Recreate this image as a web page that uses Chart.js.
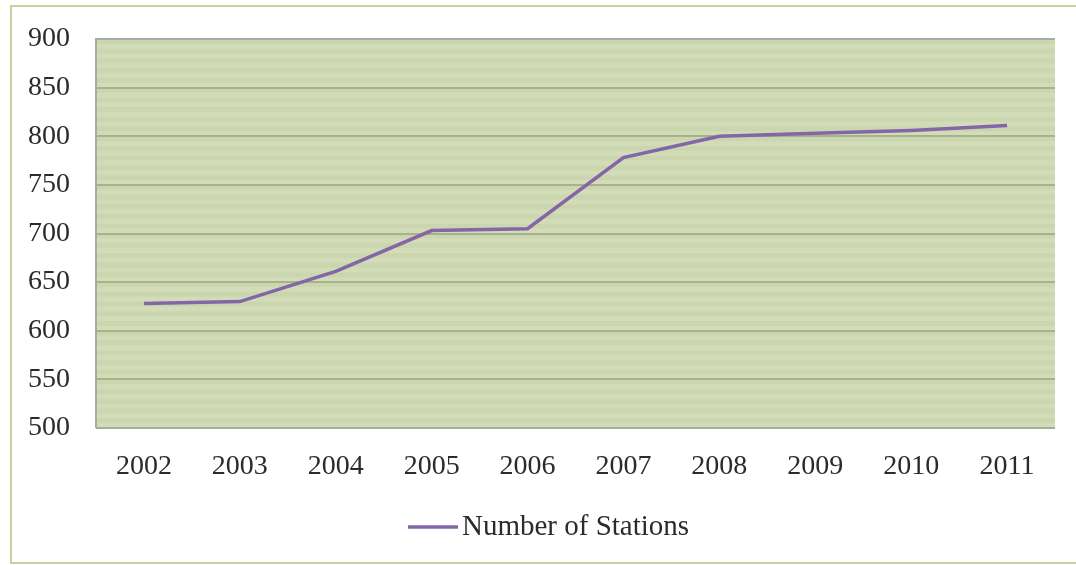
<!DOCTYPE html>
<html>
<head>
<meta charset="utf-8">
<script src="https://cdn.jsdelivr.net/npm/chart.js@4.4.1/dist/chart.umd.min.js"></script>
<style>
  html, body { margin: 0; padding: 0; background: #ffffff; }
  #wrap { width: 1076px; height: 565px; position: relative; }
</style>
</head>
<body>
<div id="wrap"><canvas id="c" width="1076" height="565"></canvas></div>
<script>
// Station counts per year
const years = ['2002', '2003', '2004', '2005', '2006', '2007', '2008', '2009', '2010', '2011'];
const stations = [628, 630, 661, 703, 705, 778, 800, 803, 806, 811];
const seriesName = 'Number of Stations';
const yTicks = [500, 550, 600, 650, 700, 750, 800, 850, 900];

const PURPLE = '#8466a8';
const TEXT = '#2b2b2b';
const FONT = "'Liberation Serif', 'Times New Roman', serif";
const FONT_SIZE = 28;

// Striped green plot background, plot border, outer frame and legend key
const backdrop = {
  id: 'backdrop',
  beforeDraw(chart) {
    const { ctx, chartArea: a, scales: { y } } = chart;
    ctx.save();
    // outer frame
    ctx.strokeStyle = '#c6d1a0';
    ctx.lineWidth = 2;
    ctx.strokeRect(11, 6, 1100, 557);
    // plot fill
    ctx.fillStyle = '#d3dcb8';
    ctx.fillRect(a.left, a.top, a.right - a.left, a.bottom - a.top);
    // fine stripes every 10 units
    ctx.fillStyle = '#cbd6ae';
    for (let v = y.min; v < y.max; v += 10) {
      const y1 = y.getPixelForValue(v + 5);
      const y2 = y.getPixelForValue(v + 10);
      ctx.fillRect(a.left, y2, a.right - a.left, y1 - y2);
    }
    ctx.restore();
  },
  afterDatasetsDraw(chart) {
    const { ctx, chartArea: a } = chart;
    ctx.save();
    ctx.strokeStyle = '#a9aba2';
    ctx.lineWidth = 2;
    ctx.beginPath();
    ctx.moveTo(a.left, a.bottom);
    ctx.lineTo(a.left, a.top);
    ctx.lineTo(a.right, a.top);
    ctx.moveTo(a.left, a.bottom);
    ctx.lineTo(a.right, a.bottom);
    ctx.stroke();
    ctx.restore();
  },
  afterDraw(chart) {
    const { ctx } = chart;
    const ds = chart.data.datasets[0];
    const keyX = 408, keyY = 527, keyW = 50;
    ctx.save();
    ctx.strokeStyle = ds.borderColor;
    ctx.lineWidth = 3.5;
    ctx.beginPath();
    ctx.moveTo(keyX, keyY);
    ctx.lineTo(keyX + keyW, keyY);
    ctx.stroke();
    ctx.fillStyle = TEXT;
    ctx.font = `${FONT_SIZE + 1}px ${FONT}`;
    ctx.textBaseline = 'middle';
    ctx.textAlign = 'left';
    ctx.fillText(ds.label, keyX + keyW + 4, keyY);
    ctx.restore();
  }
};

new Chart(document.getElementById('c'), {
  type: 'line',
  data: {
    labels: years,
    datasets: [{
      label: seriesName,
      data: stations,
      borderColor: PURPLE,
      backgroundColor: PURPLE,
      borderWidth: 3.5,
      pointRadius: 0,
      tension: 0,
      fill: false
    }]
  },
  options: {
    responsive: false,
    animation: false,
    devicePixelRatio: 1,
    layout: { padding: { left: 0, right: 21, top: 39, bottom: 67 } },
    plugins: {
      tooltip: { enabled: false },
      legend: { display: false }
    },
    scales: {
      x: {
        offset: true,
        grid: { display: false, drawTicks: false },
        border: { display: false },
        ticks: {
          color: TEXT,
          font: { family: FONT, size: FONT_SIZE },
          padding: 22,
          maxRotation: 0
        },
        afterFit(s) { s.height = 70; }
      },
      y: {
        min: 500,
        max: 900,
        afterBuildTicks(s) { s.ticks = yTicks.map(v => ({ value: v })); },
        grid: {
          color: '#a7b288',
          lineWidth: 2,
          drawTicks: false
        },
        border: { display: false },
        ticks: {
          color: TEXT,
          font: { family: FONT, size: FONT_SIZE },
          padding: 26
        },
        afterFit(s) {
          s.width = 96;
          s.paddingTop = 0;
          s.paddingBottom = 0;
        }
      }
    }
  },
  plugins: [backdrop]
});
</script>
</body>
</html>
